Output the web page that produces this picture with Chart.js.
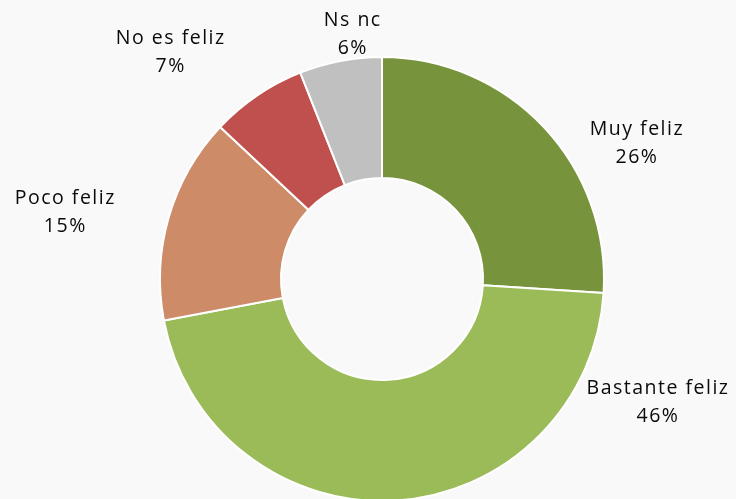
<!DOCTYPE html>
<html><head><meta charset="utf-8">
<script src="https://cdn.jsdelivr.net/npm/chart.js@4/dist/chart.umd.min.js"></script>
<style>
html,body{margin:0;padding:0;background:#f9f9f9;overflow:hidden;}
#wrap{width:736px;height:520px;position:relative;}
</style></head>
<body><div id="wrap"><canvas id="c" width="736" height="520"></canvas></div>
<script>
const categories = ["Muy feliz", "Bastante feliz", "Poco feliz", "No es feliz", "Ns nc"];
const values = [26, 46, 15, 7, 6];
const valueLabels = ["26%", "46%", "15%", "7%", "6%"];
const colors = ["#77933C", "#9BBB59", "#CD8B68", "#C0504D", "#C0C0C0"];
// label anchor offsets from chart centre, in units of the outer radius
const labelOffsets = [[1.145, -0.612], [1.24, 0.556], [-1.43, -0.298], [-0.955, -1.02], [-0.135, -1.10]];

const labelPlugin = {
  id: 'labels',
  afterDatasetsDraw(chart) {
    const ctx = chart.ctx;
    const meta = chart.getDatasetMeta(0);
    const sp = 1.5;
    ctx.save();
    ctx.font = '19.5px "Open Sans"';
    ctx.letterSpacing = sp + 'px';
    ctx.fillStyle = '#0a0a0a';
    ctx.textAlign = 'center';
    ctx.textBaseline = 'middle';
    meta.data.forEach((arc, i) => {
      const r = arc.outerRadius;
      const x = arc.x + labelOffsets[i][0] * r + sp / 2;
      const y = arc.y + labelOffsets[i][1] * r;
      ctx.fillText(categories[i], x, y - 14);
      ctx.fillText(valueLabels[i], x, y + 14);
    });
    ctx.restore();
  }
};

new Chart(document.getElementById('c'), {
  type: 'doughnut',
  data: {
    labels: categories,
    datasets: [{
      data: values,
      backgroundColor: colors,
      borderColor: '#ffffff',
      borderWidth: 2,
      hoverOffset: 0
    }]
  },
  options: {
    responsive: false,
    animation: false,
    cutout: '45.5%',
    layout: { padding: { top: 56, bottom: 18, left: 159, right: 131 } },
    plugins: { legend: { display: false }, tooltip: { enabled: false } }
  },
  plugins: [labelPlugin]
});
</script></body></html>
